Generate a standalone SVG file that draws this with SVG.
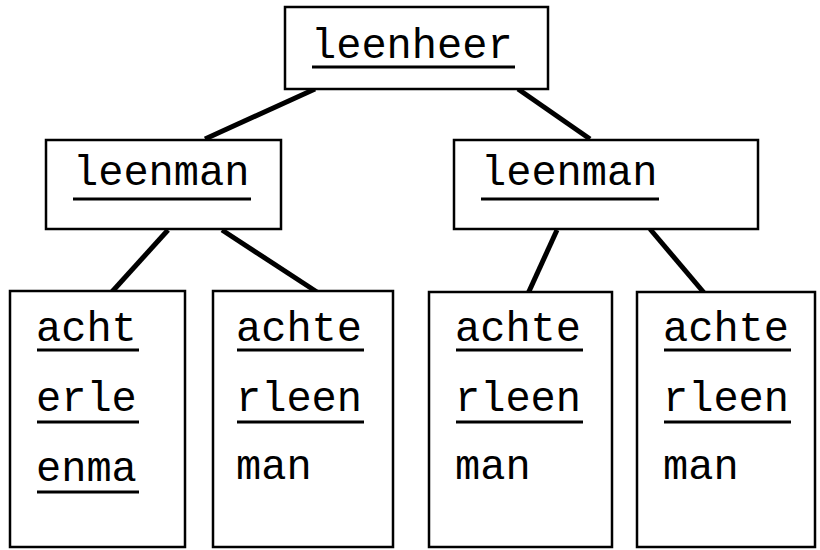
<svg xmlns="http://www.w3.org/2000/svg" width="820" height="550" viewBox="0 0 820 550">
<style>
.box{fill:#fff;stroke:#000;stroke-width:2.5}
.t{font-family:"Liberation Mono","Courier New",monospace;font-size:42px;fill:#000}
.u{stroke:#000;stroke-width:3}
.c{stroke:#000;stroke-width:5;stroke-linecap:butt}
</style>
<rect width="820" height="550" fill="#fff"/>
<g id="connectors">
<line class="c" x1="315" y1="89" x2="205" y2="139"/>
<line class="c" x1="518" y1="89" x2="590" y2="139"/>
<line class="c" x1="168" y1="230" x2="110" y2="294"/>
<line class="c" x1="222" y1="230" x2="320" y2="294"/>
<line class="c" x1="557" y1="230" x2="526" y2="298"/>
<line class="c" x1="650" y1="229" x2="711" y2="301"/>
</g>
<g id="root">
<rect class="box" x="285" y="7" width="263" height="82"/>
<text class="t" x="311" y="58">leenheer</text>
<line class="u" x1="312" y1="67" x2="515" y2="67"/>
</g>
<g id="mid-left">
<rect class="box" x="46" y="140" width="235" height="89"/>
<text class="t" x="73" y="185">leenman</text>
<line class="u" x1="73" y1="199" x2="251" y2="199"/>
</g>
<g id="mid-right">
<rect class="box" x="454" y="140" width="304" height="89"/>
<text class="t" x="481" y="185">leenman</text>
<line class="u" x1="481" y1="199" x2="659" y2="199"/>
</g>
<g id="leaf1">
<rect class="box" x="10" y="291" width="175" height="256"/>
<text class="t" x="36" y="341">acht</text>
<line class="u" x1="37" y1="350" x2="139" y2="350"/>
<text class="t" x="36" y="411">erle</text>
<line class="u" x1="37" y1="422" x2="139" y2="422"/>
<text class="t" x="36" y="481">enma</text>
<line class="u" x1="37" y1="492" x2="139" y2="492"/>
</g>
<g id="leaf2">
<rect class="box" x="213" y="291" width="180" height="256"/>
<text class="t" x="236" y="341">achte</text>
<line class="u" x1="237" y1="350" x2="364" y2="350"/>
<text class="t" x="236" y="411">rleen</text>
<line class="u" x1="237" y1="422" x2="364" y2="422"/>
<text class="t" x="236" y="479">man</text>
</g>
<g id="leaf3">
<rect class="box" x="429" y="292" width="183" height="255"/>
<text class="t" x="455" y="341">achte</text>
<line class="u" x1="456" y1="350" x2="583" y2="350"/>
<text class="t" x="455" y="411">rleen</text>
<line class="u" x1="456" y1="422" x2="583" y2="422"/>
<text class="t" x="455" y="479">man</text>
</g>
<g id="leaf4">
<rect class="box" x="637" y="292" width="178" height="255"/>
<text class="t" x="663" y="341">achte</text>
<line class="u" x1="664" y1="350" x2="791" y2="350"/>
<text class="t" x="663" y="411">rleen</text>
<line class="u" x1="664" y1="422" x2="791" y2="422"/>
<text class="t" x="663" y="479">man</text>
</g>
</svg>
